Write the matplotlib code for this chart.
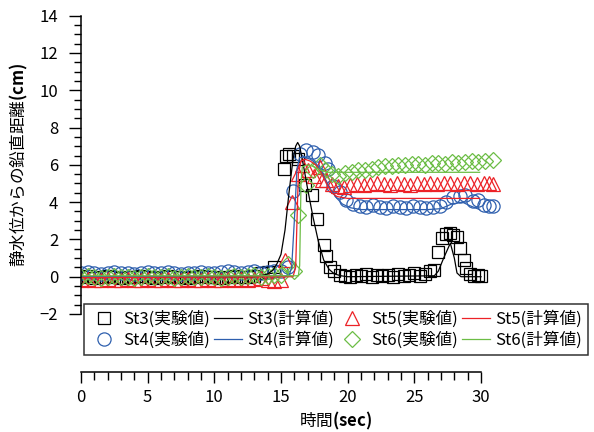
import numpy as np
import matplotlib
matplotlib.use("Agg")
from matplotlib import pyplot as plt
from matplotlib.ticker import MultipleLocator, FixedLocator

plt.rcParams['font.family'] = ['Noto Sans CJK JP', 'DejaVu Sans']
plt.rcParams['mathtext.fontset'] = 'custom'
plt.rcParams['mathtext.rm'] = 'Noto Sans CJK JP'
plt.rcParams['mathtext.bf'] = 'Noto Sans CJK JP:bold'

# shared time stamps of the still-water part (sec)
t_base = [0.0, 0.5, 1.0, 1.5, 2.0, 2.5, 3.0, 3.5, 4.0, 4.5,
          5.0, 5.5, 6.0, 6.5, 7.0, 7.5, 8.0, 8.5, 9.0, 9.5,
          10.0, 10.5, 11.0, 11.5, 12.0, 12.5, 13.0, 13.5, 14.0, 14.5]

# experimental values (cm)
st3_base = [0.0, 0.05, -0.05, 0.0, 0.05, 0.0, -0.05, 0.0, 0.0, 0.05,
            0.0, -0.05, 0.0, 0.05, 0.0, 0.0, -0.05, 0.0, 0.05, 0.0,
            0.0, -0.05, 0.0, 0.05, 0.0, 0.0, 0.05, 0.2, 0.25, 0.5]
st3_t = [15.2, 15.4, 15.6, 15.9, 16.3, 16.8, 17.3, 17.7, 18.2, 18.4,
         18.7, 19.0, 19.4, 19.8, 20.2, 20.6, 21.0, 21.4, 21.8, 22.2,
         22.6, 23.0, 23.4, 23.8, 24.2, 24.6, 25.0, 25.4, 25.8, 26.2,
         26.5, 26.8, 27.1, 27.4, 27.7, 27.9, 28.2, 28.45, 28.7, 28.9,
         29.2, 29.5, 29.8, 30.0]
st3_v = [5.8, 6.5, 6.6, 6.5, 6.3, 4.9, 4.4, 3.1, 1.7, 1.1,
         0.5, 0.3, 0.1, 0.05, 0.0, 0.1, 0.05, 0.15, 0.0, 0.1,
         0.05, 0.1, 0.0, 0.15, 0.05, 0.1, 0.2, 0.05, 0.15, 0.3,
         0.35, 1.35, 2.05, 2.3, 2.35, 2.25, 2.15, 1.55, 0.9, 0.45,
         0.15, 0.05, 0.1, 0.05]

st4_base = [0.2, 0.25, 0.2, 0.15, 0.2, 0.25, 0.2, 0.2, 0.15, 0.2,
            0.25, 0.2, 0.2, 0.25, 0.2, 0.15, 0.2, 0.2, 0.25, 0.2,
            0.2, 0.25, 0.3, 0.25, 0.2, 0.25, 0.3, 0.2, 0.25, 0.3]
st4_t = [15.0, 15.5, 15.9, 16.4, 16.9, 17.4, 17.8, 18.3, 18.55, 18.9,
         19.4, 19.9, 20.4, 20.9, 21.4, 21.9, 22.4, 22.9, 23.4, 23.9,
         24.4, 24.9, 25.4, 25.9, 26.4, 26.9, 27.4, 27.9, 28.4, 28.8,
         29.4, 29.8, 30.2, 30.6, 30.9]
st4_v = [0.3, 0.5, 4.6, 6.6, 6.8, 6.7, 6.55, 6.1, 5.8, 4.85,
         4.55, 4.1, 3.9, 3.8, 3.75, 3.85, 3.75, 3.7, 3.8, 3.75,
         3.7, 3.8, 3.75, 3.7, 3.75, 3.8, 4.0, 4.25, 4.35, 4.4,
         4.05, 4.1, 3.85, 3.8, 3.8]

st5_base = [-0.15, -0.1, -0.2, -0.15, -0.1, -0.15, -0.2, -0.1, -0.15, -0.15,
            -0.1, -0.2, -0.15, -0.1, -0.15, -0.2, -0.1, -0.15, -0.15, -0.1,
            -0.2, -0.15, -0.1, -0.15, -0.1, -0.15, -0.1, -0.05, -0.2, -0.25]
st5_t = [15.0, 15.3, 15.8, 16.3, 16.55, 17.05, 17.45, 17.9, 18.05, 18.4,
         18.8, 19.3, 19.7, 20.2, 20.7, 21.2, 21.7, 22.2, 22.7, 23.2,
         23.7, 24.2, 24.7, 25.2, 25.7, 26.2, 26.7, 27.2, 27.7, 28.2,
         28.7, 29.2, 29.7, 30.2, 30.6, 30.9]
st5_v = [-0.2, 0.9, 4.0, 5.5, 6.0, 5.7, 5.4, 5.9, 5.2, 5.2,
         4.95, 4.85, 4.8, 4.9, 4.95, 4.9, 4.95, 5.0, 4.95, 4.9,
         5.0, 4.95, 4.9, 5.0, 4.95, 5.0, 4.95, 5.0, 5.0, 4.95,
         5.0, 5.0, 4.95, 5.0, 5.0, 4.95]

st6_base = [0.0, 0.05, 0.0, -0.05, 0.0, 0.05, 0.0, 0.0, -0.05, 0.0,
            0.05, 0.0, 0.0, 0.05, -0.05, 0.0, 0.05, 0.0, 0.0, 0.05,
            0.0, -0.05, 0.0, 0.05, 0.0, 0.05, 0.1, 0.0, 0.05, 0.1]
st6_t = [15.0, 15.5, 16.0, 16.3, 16.9, 17.4, 17.9, 18.3, 18.8, 19.3,
         19.8, 20.3, 20.8, 21.3, 21.8, 22.3, 22.8, 23.3, 23.8, 24.3,
         24.8, 25.3, 25.8, 26.3, 26.8, 27.3, 27.8, 28.3, 28.8, 29.3,
         29.8, 30.3, 30.9]
st6_v = [0.1, 0.7, 0.3, 3.3, 4.9, 5.7, 6.0, 5.75, 5.5, 5.4,
         5.55, 5.6, 5.7, 5.75, 5.8, 5.9, 5.95, 5.95, 6.0, 6.0,
         6.05, 6.05, 6.0, 6.1, 6.1, 6.05, 6.15, 6.1, 6.15, 6.2,
         6.15, 6.2, 6.25]

# computed values (cm)
calc3_t = [0.0, 13.0, 13.5, 14.0, 14.4, 14.7, 15.0, 15.3, 15.6, 15.9,
           16.1, 16.25, 16.4, 16.7, 17.0, 17.4, 17.8, 18.2, 18.6, 19.0,
           19.5, 20.0, 26.5, 26.8, 27.2, 27.7, 28.0, 28.2, 28.5, 30.0]
calc3_v = [0.0, 0.0, 0.05, 0.15, 0.35, 0.7, 1.2, 2.5, 4.5, 6.3,
           7.0, 7.2, 7.0, 5.9, 4.7, 3.2, 1.9, 0.9, 0.4, 0.15,
           0.05, 0.0, 0.05, 0.3, 1.0, 1.8, 1.0, 0.2, 0.0, 0.0]
calc4_t = [0.0, 15.6, 15.8, 16.0, 16.2, 16.4, 16.8, 17.2, 17.6, 18.0,
           18.4, 18.8, 19.2, 19.6, 20.2, 21.0, 26.0, 27.0, 27.8, 28.6,
           29.2, 29.9]
calc4_v = [0.0, 0.05, 0.5, 3.0, 5.8, 6.4, 6.4, 6.3, 6.1, 5.7,
           5.1, 4.6, 4.2, 3.9, 3.7, 3.6, 3.6, 3.65, 3.9, 4.0,
           3.8, 3.6]
calc5_t = [0.0, 15.9, 16.1, 16.3, 16.5, 16.8, 17.2, 17.6, 18.0, 18.4,
           18.8, 19.2, 20.0, 29.9]
calc5_v = [-0.05, 0.0, 0.5, 5.5, 6.2, 6.3, 6.2, 6.0, 5.6, 5.0,
           4.5, 4.3, 4.2, 4.2]
calc6_t = [0.0, 16.3, 16.4, 16.5, 16.6, 17.0, 17.5, 18.0, 18.5, 19.0, 29.9]
calc6_v = [0.05, 0.05, 0.6, 5.0, 5.9, 6.0, 5.9, 5.7, 5.6, 5.6, 5.6]

time_major = [0, 5, 10, 15, 20, 25, 30]
time_minor = list(range(0, 31))

c_black = '#000000'
c_blue = '#2e5fae'
c_red = '#ec2227'
c_green = '#6cbd45'

W, H = 594, 432
fig = plt.figure(figsize=(W / 100, H / 100), dpi=100)
x0, x1 = 81, 590          # pixel columns of t=0 and the right edge
px_per_sec = 400 / 30
xmax = (x1 - x0) / px_per_sec
ax = fig.add_axes([x0 / W, (H - 314) / H, (x1 - x0) / W, (314 - 15.7) / H])
ax.set_xlim(0, xmax)
ax.set_ylim(-2, 14)

mk = dict(linestyle='none', markerfacecolor='none', markeredgewidth=0.9)
h3, = ax.plot(t_base + st3_t, st3_base + st3_v, marker='s', ms=8, color=c_black, **mk)
h4, = ax.plot(t_base + st4_t, st4_base + st4_v, marker='o', ms=9.5, color=c_blue, **mk)
h5, = ax.plot(t_base + st5_t, st5_base + st5_v, marker='^', ms=10.5, color=c_red, **mk)
h6, = ax.plot(t_base + st6_t, st6_base + st6_v, marker='D', ms=8.5, color=c_green, **mk)
l3, = ax.plot(calc3_t, calc3_v, color=c_black, lw=0.9)
l4, = ax.plot(calc4_t, calc4_v, color=c_blue, lw=0.9)
l5, = ax.plot(calc5_t, calc5_v, color=c_red, lw=0.9)
l6, = ax.plot(calc6_t, calc6_v, color=c_green, lw=0.9)

for s in ['top', 'right', 'bottom']:
    ax.spines[s].set_visible(False)
ax.spines['left'].set_linewidth(1.1)
ax.set_xticks([])
ax.yaxis.set_major_locator(MultipleLocator(2))
ax.yaxis.set_minor_locator(MultipleLocator(0.5))
ax.tick_params(axis='y', which='major', length=8.4, width=1.0, labelsize=12, pad=8)
ax.tick_params(axis='y', which='minor', length=4.8, width=1.0)
ax.set_ylabel(r'静水位からの鉛直距離$\mathbf{(cm)}$', fontsize=12)
ax.yaxis.set_label_coords(-0.1, 0.5)

handles = [h3, h4, l3, l4, h5, h6, l5, l6]
labels = ['St3(実験値)', 'St4(実験値)', 'St3(計算値)', 'St4(計算値)',
          'St5(実験値)', 'St6(実験値)', 'St5(計算値)', 'St6(計算値)']
leg = fig.legend(handles, labels, ncol=4, loc='lower left',
                 bbox_to_anchor=(84 / W, (H - 355) / H, (588 - 84) / W, (355 - 296) / H),
                 mode='expand', fontsize=12, frameon=True, fancybox=False,
                 edgecolor='black', handlelength=1.7, handletextpad=0.3,
                 labelspacing=0.25, borderpad=0.35, borderaxespad=0)
leg.get_frame().set_linewidth(1.1)

# detached time axis under the legend
axb = fig.add_axes([x0 / W, (H - 372) / H, (x1 - x0) / W, 0.001])
axb.set_xlim(0, xmax)
axb.patch.set_visible(False)
for s in ['top', 'right', 'left']:
    axb.spines[s].set_visible(False)
axb.spines['bottom'].set_bounds(0, 30)
axb.spines['bottom'].set_linewidth(1.1)
axb.set_yticks([])
axb.xaxis.set_major_locator(FixedLocator(time_major))
axb.xaxis.set_minor_locator(FixedLocator(time_minor))
axb.tick_params(axis='x', which='major', length=8, width=1.0, labelsize=12, pad=4)
axb.tick_params(axis='x', which='minor', length=5.4, width=1.0)
axb.set_xlabel(r'時間$\mathbf{(sec)}$', fontsize=12, labelpad=3)

fig.savefig('out.png', dpi=100)
